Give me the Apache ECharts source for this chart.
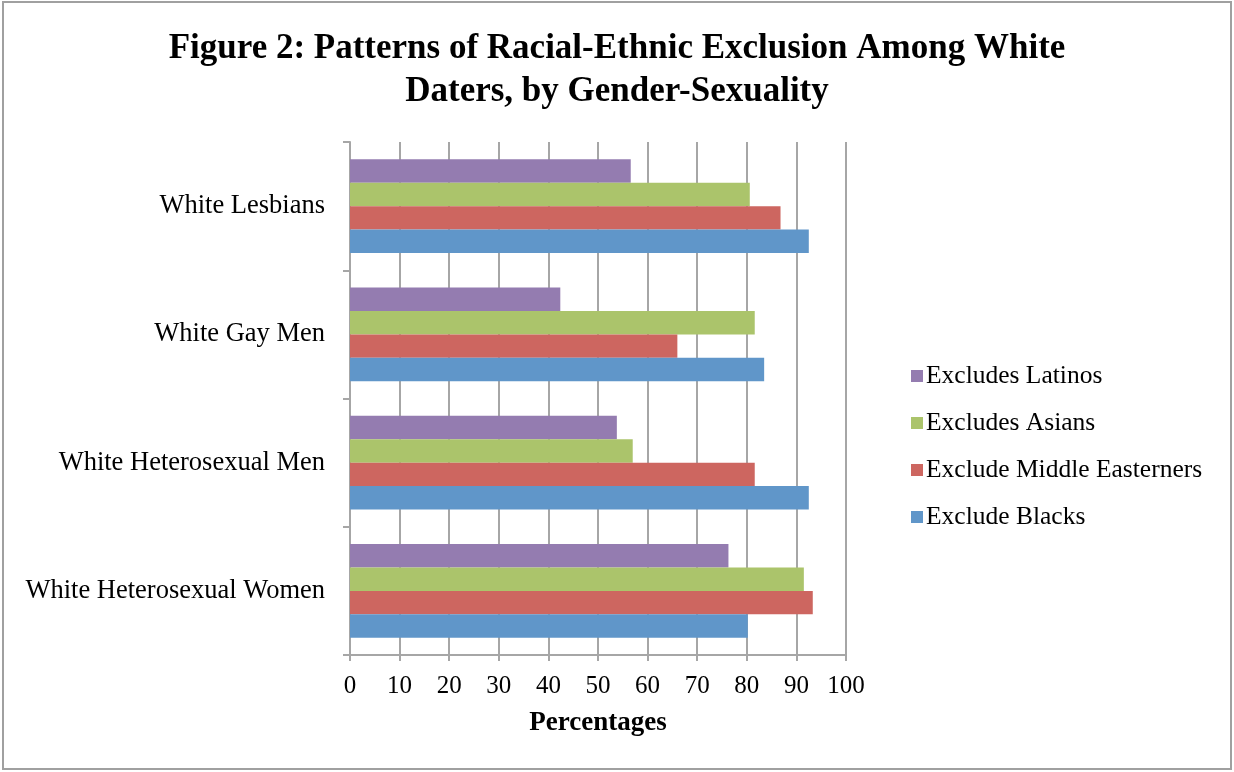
<!DOCTYPE html>
<html>
<head>
<meta charset="utf-8">
<script src="https://cdn.jsdelivr.net/npm/echarts@6/dist/echarts.min.js"></script>
<style>
  html, body { margin: 0; padding: 0; background: #fff; }
  #chart { width: 1234px; height: 772px; }
</style>
</head>
<body>
<div id="chart"></div>
<script>
// categories bottom -> top (as drawn on the y axis)
var categories = ['White Heterosexual Women', 'White Heterosexual Men', 'White Gay Men', 'White Lesbians'];
var xTicks = { min: 0, max: 100, interval: 10 };

// values per series, same order as categories
var excludeBlacks = [80.2, 92.5, 83.5, 92.5];
var excludeMiddleEasterners = [93.3, 81.6, 66.0, 86.8];
var excludesAsians = [91.5, 57.0, 81.6, 80.6];
var excludesLatinos = [76.3, 53.8, 42.4, 56.6];

var serif = '"Liberation Serif", "DejaVu Serif", serif';
var gridGray = '#a6a6a6';

var chart = echarts.init(document.getElementById('chart'));

function bar(name, data, color) {
  return {
    name: name,
    type: 'bar',
    data: data,
    barGap: '0%',
    barCategoryGap: '27%',
    itemStyle: { color: color },
    emphasis: { disabled: true }
  };
}

var option = {
  backgroundColor: '#fff',
  animation: false,
  title: {
    text: 'Figure 2: Patterns of Racial-Ethnic Exclusion Among White\nDaters, by Gender-Sexuality',
    left: 'center',
    top: 22,
    textStyle: {
      fontFamily: serif,
      fontWeight: 'bold',
      fontSize: 35,
      lineHeight: 43,
      color: '#000'
    }
  },
  graphic: [{
    type: 'rect',
    shape: { x: 3, y: 2, width: 1228, height: 767 },
    style: { fill: 'none', stroke: '#a0a0a0', lineWidth: 2 },
    silent: true
  }],
  legend: {
    orient: 'vertical',
    left: 906,
    top: 358,
    itemWidth: 12,
    itemHeight: 12,
    itemGap: 21,
    icon: 'rect',
    data: ['Excludes Latinos', 'Excludes Asians', 'Exclude Middle Easterners', 'Exclude Blacks'],
    textStyle: { fontFamily: serif, fontSize: 25.5, lineHeight: 26, color: '#000', padding: [0, 0, 0, -2] }
  },
  grid: {
    left: 350,
    top: 142,
    width: 496,
    height: 513,
    containLabel: false
  },
  xAxis: {
    type: 'value',
    min: xTicks.min,
    max: xTicks.max,
    interval: xTicks.interval,
    name: 'Percentages',
    nameLocation: 'middle',
    nameGap: 55,
    nameTextStyle: { fontFamily: serif, fontSize: 27, fontWeight: 'bold', color: '#000' },
    axisLine: { show: true, lineStyle: { color: gridGray, width: 2 } },
    axisTick: { show: true, length: 6, lineStyle: { color: gridGray, width: 2 } },
    axisLabel: { fontFamily: serif, fontSize: 25, color: '#000', margin: 19 },
    splitLine: { show: true, lineStyle: { color: gridGray, width: 2 } }
  },
  yAxis: {
    type: 'category',
    data: categories,
    axisLine: { show: true, lineStyle: { color: gridGray, width: 2 } },
    axisTick: { show: true, length: 7, lineStyle: { color: gridGray, width: 2 } },
    axisLabel: { fontFamily: serif, fontSize: 26.5, color: '#000', margin: 25, padding: [6, 0, 0, 0] }
  },
  // first series sits at the top of each band
  series: [
    bar('Excludes Latinos', excludesLatinos, '#947cb0'),
    bar('Excludes Asians', excludesAsians, '#abc46b'),
    bar('Exclude Middle Easterners', excludeMiddleEasterners, '#cd6660'),
    bar('Exclude Blacks', excludeBlacks, '#6096c9')
  ]
};

chart.setOption(option);
</script>
</body>
</html>
